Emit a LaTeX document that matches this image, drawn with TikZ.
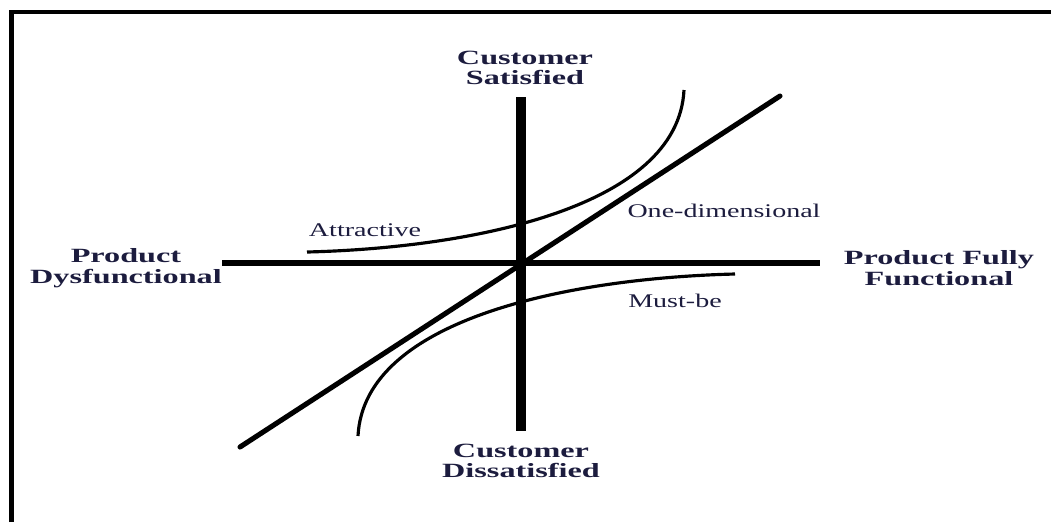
\documentclass[tikz,border=0pt]{standalone}
\usepackage{fontspec}
\setmainfont{Liberation Serif}
\definecolor{inkblue}{RGB}{28,28,62}

\begin{document}
\begin{tikzpicture}[x=0.02cm,y=-0.02cm,
  every node/.style={inner sep=0,text=inkblue,font=\fontsize{11}{11.6}\selectfont,xscale=1.45,transform shape},
  axislabel/.style={align=center,font=\fontsize{11.5}{11.8}\selectfont\bfseries,xscale=1.1},
  axis/.style={line width=7*0.567pt},
  curve/.style={line width=1.8pt}]
\useasboundingbox (0,0) rectangle (1051,522);

% frame
\draw[line width=2.3pt] (11.5,522) -- (11.5,12) -- (1051,12);

\coordinate (o) at (521,263);
\coordinate (xl) at (222,263);
\coordinate (xr) at (820,263);
\coordinate (yt) at (521,97);
\coordinate (yb) at (521,431);

\draw[axis] (xl) -- (xr);
\draw[axis,line width=6.2pt] (yt) -- (yb);

% one-dimensional requirement
\coordinate (od1) at (240,447);
\coordinate (od2) at (780,96);
\draw[line width=2.9pt,line cap=round] (od1) -- (od2);

% attractive and must-be
\draw[curve] (307,252) .. controls (470,248) and (678,208) .. (684,90);
\draw[curve] (735,274) .. controls (572,278) and (364,318) .. (358,436);

\node[axislabel] (sat) at (525,68) {Customer\\Satisfied};
\node[axislabel] (dis) at (521,461) {Customer\\Dissatisfied};
\node[axislabel] (dys) at (126,268) {Product\\Dysfunctional};
\node[axislabel] (ful) at (939,268) {Product Fully\\Functional};

\node (att) at (365,230) {Attractive};
\node (one) at (724,211) {One-dimensional};
\node (must) at (675,301) {Must-be};

\end{tikzpicture}
\end{document}
